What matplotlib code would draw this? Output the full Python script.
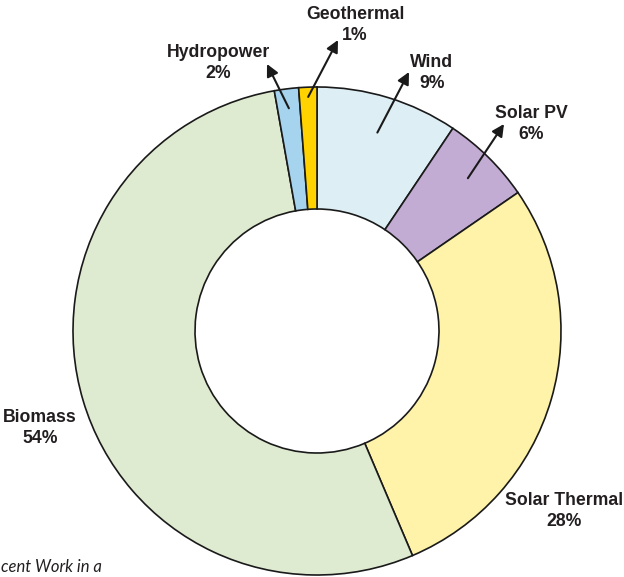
import numpy as np
import matplotlib
matplotlib.use("Agg")
import matplotlib.pyplot as plt

# shares (clockwise from 12 o'clock)
names = ["Wind", "Solar PV", "Solar Thermal", "Biomass", "Hydropower", "Geothermal"]
values = [9.4, 6.0, 28.2, 53.6, 1.6, 1.2]
colors = ["#DDEFF5", "#C3ACD3", "#FEF3A8", "#DFEBD0", "#A6D3EE", "#FFD200"]

# label block centres in pixels, and arrow heads (None = no arrow)
label_px = [(432, 73), (531, 124), (564, 511), (40, 428), (218, 63), (355, 25)]
head_px = [(409, 72), (504, 124), None, None, (267, 64), (338, 40)]
tail_r = [0.85, 0.88, None, None, 0.92, 0.96]

W, H = 624, 577
CX, CY, R = 317, 331, 244


def px(p):
    return ((p[0] - CX) / R, (CY - p[1]) / R)


def main():
    plt.rcParams["font.family"] = ["Liberation Sans", "DejaVu Sans"]
    fig = plt.figure(figsize=(W / 100, H / 100), dpi=100)
    ax = fig.add_axes([0, 0, 1, 1])

    wedges, _ = ax.pie(values, colors=colors, startangle=90, counterclock=False,
                       radius=1, center=(0, 0),
                       wedgeprops=dict(width=0.5, edgecolor="#1a1a1a", linewidth=1.2))

    ax.set_xlim(-CX / R, (W - CX) / R)
    ax.set_ylim((CY - H) / R, CY / R)
    ax.set_aspect("auto")
    ax.axis("off")

    for i, w in enumerate(wedges):
        lx, ly = px(label_px[i])
        txt = "%s\n%d%%" % (names[i], round(values[i]))
        ax.text(lx, ly, txt, ha="center", va="center", fontsize=12.7,
                fontweight="bold", color="#231F20", linespacing=1.38,
                family=["Liberation Sans", "DejaVu Sans"])
        if head_px[i] is not None:
            ang = np.radians((w.theta1 + w.theta2) / 2)
            tail = (tail_r[i] * np.cos(ang), tail_r[i] * np.sin(ang))
            ax.annotate("", xy=px(head_px[i]), xytext=tail,
                        arrowprops=dict(arrowstyle="-|>", color="#1a1a1a",
                                        lw=1.5, mutation_scale=18,
                                        shrinkA=0, shrinkB=0))

    # caption fragment at bottom left
    fig.text(1 / W, 5 / H, "cent Work in a", fontsize=12, style="italic",
             family=["Lato", "DejaVu Sans"], color="#231F20", ha="left", va="baseline")

    fig.savefig("out.png", dpi=100)


if __name__ == "__main__":
    main()
